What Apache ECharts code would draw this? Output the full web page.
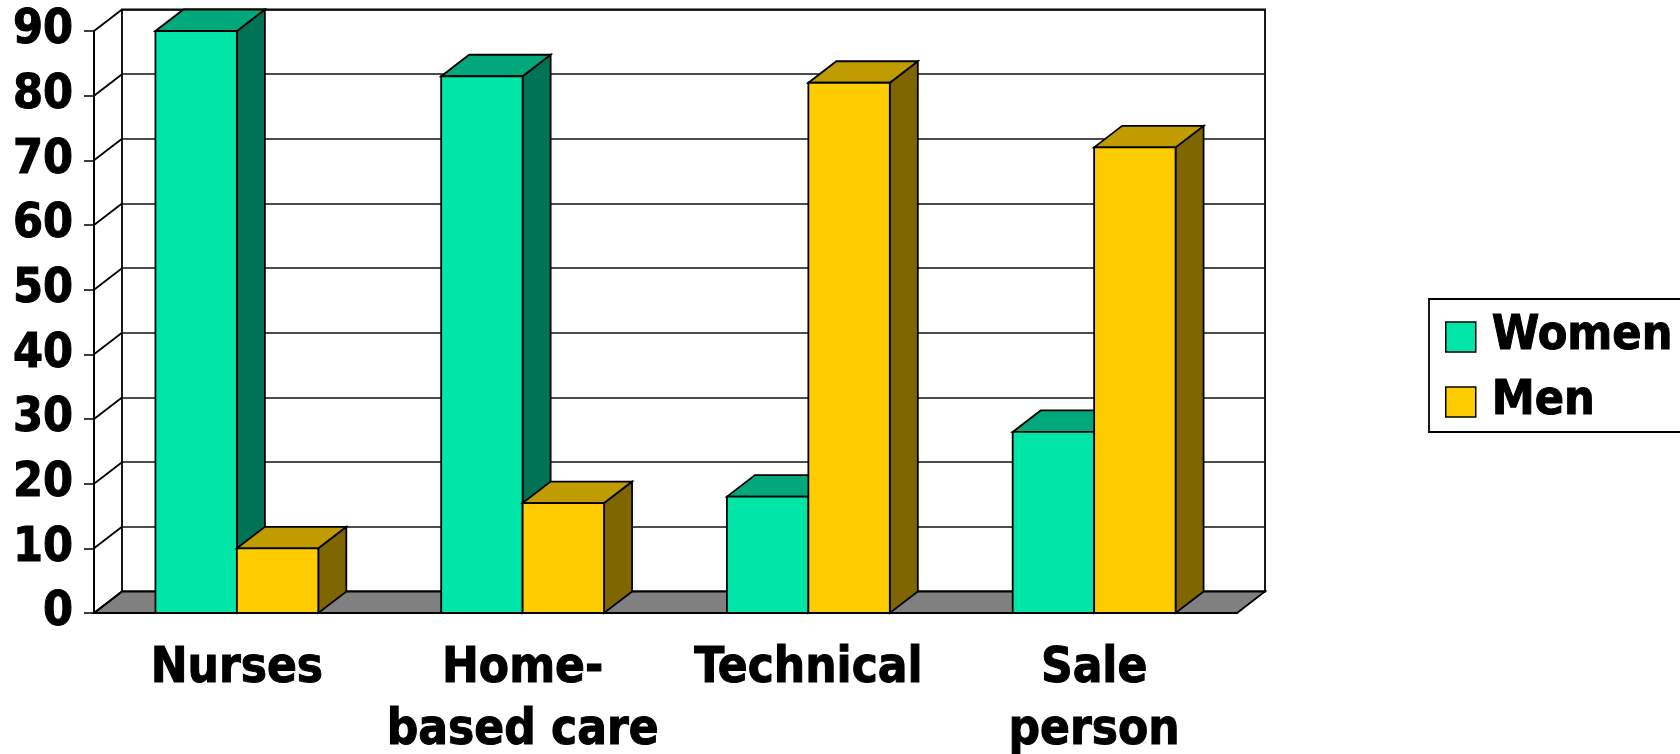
<!DOCTYPE html>
<html>
<head>
<meta charset="utf-8">
<script src="https://cdn.jsdelivr.net/npm/echarts@6/dist/echarts.min.js"></script>
<style>
  html, body { margin: 0; padding: 0; background: #fff; }
  #chart { width: 1680px; height: 754px; }
</style>
</head>
<body>
<div id="chart"></div>
<script>
const categories = ['Nurses', 'Home-\nbased care', 'Technical', 'Sale\nperson'];
const women = [90, 83, 18, 28];
const men = [10, 17, 82, 72];
const yTicks = [0, 10, 20, 30, 40, 50, 60, 70, 80, 90];

// 3D depth offset of the fake perspective
const DX = 28;
const DY = 21.5;
const BAR_RATIO = 0.285;
const FONT = '"DejaVu Sans Condensed", "DejaVu Sans", Verdana, sans-serif';

const womenColors = { front: '#00E5A8', top: '#00A87C', side: '#007356' };
const menColors = { front: '#FFCC00', top: '#C09C00', side: '#806600' };

const edge = { stroke: '#000', lineWidth: 1.8 };
// slightly heavier glyphs, closer to the original bold face
const heavy = { textBorderColor: '#000', textBorderWidth: 1 };

function renderBar(side, colors) {
  return function (params, api) {
    const i = api.value(0);
    const v = api.value(1);
    const base = api.coord([i, 0]);
    const top = api.coord([i, v]);
    const w = api.size([1, 0])[0] * BAR_RATIO;
    const x0 = side < 0 ? base[0] - w : base[0];
    const x1 = x0 + w;
    const yt = top[1];
    const yb = base[1];
    return {
      type: 'group',
      children: [
        {
          type: 'polygon',
          shape: { points: [[x1, yt], [x1 + DX, yt - DY], [x1 + DX, yb - DY], [x1, yb]] },
          style: Object.assign({ fill: colors.side }, edge)
        },
        {
          type: 'polygon',
          shape: { points: [[x0, yt], [x0 + DX, yt - DY], [x1 + DX, yt - DY], [x1, yt]] },
          style: Object.assign({ fill: colors.top }, edge)
        },
        {
          type: 'rect',
          shape: { x: x0, y: yt, width: w, height: yb - yt },
          style: Object.assign({ fill: colors.front }, edge)
        }
      ]
    };
  };
}

// side wall diagonals + floor
function renderWalls(params, api) {
  const v = api.value(1);
  const cs = params.coordSys;
  const y = api.coord([0, v])[1];
  const children = [];
  if (v === 0) {
    children.push({
      type: 'polygon',
      shape: { points: [[cs.x, y], [cs.x + DX, y - DY], [cs.x + cs.width + DX, y - DY], [cs.x + cs.width, y]] },
      style: { fill: '#808080', stroke: '#000', lineWidth: 1.8 }
    });
  }
  children.push({
    type: 'line',
    shape: { x1: cs.x, y1: y, x2: cs.x + DX, y2: y - DY },
    style: { stroke: '#000', lineWidth: 1.8 }
  });
  return { type: 'group', children: children };
}

const chart = echarts.init(document.getElementById('chart'));

chart.setOption({
  backgroundColor: '#fff',
  animation: false,
  grid: [
    { left: 94, top: 31, width: 1143, height: 582, outerBoundsMode: 'none', containLabel: false },
    {
      left: 94 + DX, top: 31 - DY, width: 1143, height: 582,
      outerBoundsMode: 'none', containLabel: false,
      show: true, borderColor: '#000', borderWidth: 1.8, backgroundColor: '#fff'
    }
  ],
  legend: {
    data: ['Women', 'Men'],
    orient: 'vertical',
    left: 1429,
    top: 299,
    icon: 'rect',
    itemWidth: 30,
    itemHeight: 30,
    itemGap: 13,
    padding: [12, 40, 4, 16],
    borderColor: '#000',
    borderWidth: 1.8,
    itemStyle: { borderColor: '#000', borderWidth: 1.5 },
    textStyle: Object.assign({
      fontFamily: FONT, fontWeight: 'bold', fontSize: 48, color: '#000',
      lineHeight: 52, padding: [0, 0, 0, 11]
    }, heavy)
  },
  xAxis: [
    {
      type: 'category',
      data: categories,
      gridIndex: 0,
      axisLine: { lineStyle: { color: '#000', width: 2 } },
      axisTick: { length: 10, lineStyle: { color: '#000', width: 1.5 } },
      axisLabel: Object.assign({
        interval: 0, margin: 25, color: '#000',
        fontFamily: FONT, fontWeight: 'bold', fontSize: 49, lineHeight: 62
      }, heavy),
      z: 5
    },
    { type: 'category', data: categories, gridIndex: 1, show: false }
  ],
  yAxis: [
    {
      type: 'value', min: 0, max: 90, interval: 10, gridIndex: 0,
      axisLine: { show: true, lineStyle: { color: '#000', width: 2 } },
      axisTick: { show: true, length: 10, lineStyle: { color: '#000', width: 1.5 } },
      splitLine: { show: false },
      axisLabel: Object.assign({
        margin: 21, color: '#000',
        fontFamily: FONT, fontWeight: 'bold', fontSize: 48
      }, heavy)
    },
    {
      type: 'value', min: 0, max: 90, interval: 10, gridIndex: 1,
      axisLine: { show: false },
      axisTick: { show: false },
      axisLabel: { show: false },
      splitLine: { show: true, lineStyle: { color: '#111', width: 1.5 } }
    }
  ],
  series: [
    {
      name: 'walls',
      type: 'custom',
      xAxisIndex: 0,
      yAxisIndex: 0,
      z: 1,
      silent: true,
      renderItem: renderWalls,
      data: yTicks.map(v => [0, v])
    },
    {
      name: 'Women',
      type: 'custom',
      xAxisIndex: 0,
      yAxisIndex: 0,
      z: 3,
      itemStyle: { color: womenColors.front },
      renderItem: renderBar(-1, womenColors),
      data: women.map((v, i) => [i, v])
    },
    {
      name: 'Men',
      type: 'custom',
      xAxisIndex: 0,
      yAxisIndex: 0,
      z: 3,
      itemStyle: { color: menColors.front },
      renderItem: renderBar(1, menColors),
      data: men.map((v, i) => [i, v])
    }
  ]
});
</script>
</body>
</html>
